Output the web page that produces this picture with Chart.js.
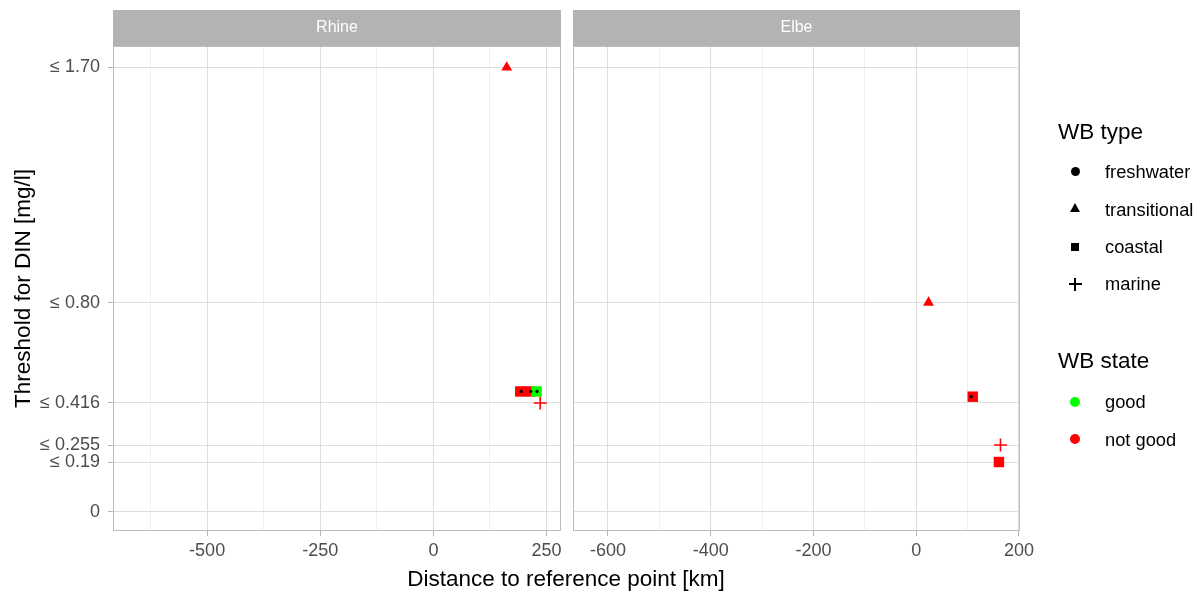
<!DOCTYPE html>
<html>
<head>
<meta charset="utf-8">
<script src="https://cdn.jsdelivr.net/npm/chart.js"></script>
<style>
  body { margin: 0; background: #fff; font-family: "Liberation Sans", Arial, sans-serif; }
  #wrap { position: relative; width: 1203px; height: 592px; overflow: hidden; }
  canvas { position: absolute; top: 0; }
  .txt { position: absolute; white-space: nowrap; color: #000; }
  .sym { position: absolute; }
</style>
</head>
<body>
<div id="wrap">
  <canvas id="rhine" width="566" height="592" style="left:0"></canvas>
  <canvas id="elbe" width="637" height="592" style="left:566px"></canvas>
  <div class="txt" style="left:0;width:1132px;text-align:center;top:566px;font-size:22.5px;line-height:26px">Distance to reference point [km]</div>
  <div id="legend"></div>
</div>
<script>
// panels
var panelNames = ['Rhine', 'Elbe'];

// Rhine water bodies
var rhineDistance = [162, 192, 213, 228, 236];
var rhineThreshold = [1.70, 0.46, 0.46, 0.46, 0.416];
var rhineType = ['transitional', 'coastal', 'coastal', 'coastal', 'marine'];
var rhineState = ['not good', 'not good', 'not good', 'good', 'not good'];
var rhineFreshDistance = [194, 215, 229];
var rhineFreshThreshold = [0.46, 0.46, 0.46];

// Elbe water bodies
var elbeDistance = [24, 110, 164, 161];
var elbeThreshold = [0.80, 0.44, 0.255, 0.19];
var elbeType = ['transitional', 'coastal', 'marine', 'coastal'];
var elbeState = ['not good', 'not good', 'not good', 'not good'];
var elbeFreshDistance = [107];
var elbeFreshThreshold = [0.44];

// axes
var yTickValues = [0, 0.19, 0.255, 0.416, 0.80, 1.70];
var yTickLabels = ['0', '\u2264 0.19', '\u2264 0.255', '\u2264 0.416', '\u2264 0.80', '\u2264 1.70'];
var rhineXMajor = [-500, -250, 0, 250];
var rhineXMinor = [-625, -375, -125, 125];
var elbeXMajor = [-600, -400, -200, 0, 200];
var elbeXMinor = [-500, -300, -100, 100];

var typeNames = ['freshwater', 'transitional', 'coastal', 'marine'];
var stateNames = ['good', 'not good'];
var stateColors = { 'good': '#00FF00', 'not good': '#FF0000' };
var typeStyle = { freshwater: 'circle', transitional: 'triangle', coastal: 'rect', marine: 'cross' };
var typeRadius = { freshwater: 4.5, transitional: 6.3, coastal: 7.4, marine: 6.5 };

var font = '"Liberation Sans", Arial, sans-serif';

function buildDatasets(dist, thr, type, state, freshDist, freshThr) {
    var sets = [{
        data: freshDist.map(function (x, i) { return { x: x, y: freshThr[i] }; }),
        pointStyle: 'circle',
        pointRadius: 1.6,
        backgroundColor: '#000',
        borderWidth: 0
    }];
    stateNames.forEach(function (s) {
        typeNames.forEach(function (t) {
            var pts = [];
            for (var i = 0; i < dist.length; i++) {
                if (type[i] === t && state[i] === s) pts.push({ x: dist[i], y: thr[i] });
            }
            if (!pts.length) return;
            sets.push({
                data: pts,
                pointStyle: typeStyle[t],
                pointRadius: typeRadius[t],
                backgroundColor: stateColors[s],
                borderColor: stateColors[s],
                borderWidth: t === 'marine' ? 1.6 : 0
            });
        });
    });
    return sets;
}

var panelPlugin = {
    id: 'panel',
    beforeDraw: function (chart) {
        var c = chart.ctx, a = chart.chartArea, t = chart.titleBlock;
        c.save();
        c.fillStyle = '#B3B3B3';
        c.fillRect(a.left, t.top, a.right - a.left, a.top - t.top);
        c.restore();
    },
    afterDraw: function (chart) {
        var c = chart.ctx, a = chart.chartArea;
        c.save();
        c.strokeStyle = '#BDBDBD';
        c.lineWidth = 1;
        c.strokeRect(a.left + 0.5, a.top + 0.5, a.right - a.left - 1, a.bottom - a.top - 1);
        c.restore();
    }
};

function makeChart(id, name, datasets, xMin, xMax, xMajor, xMinor, showY, pad) {
    var allX = xMajor.concat(xMinor).sort(function (a, b) { return a - b; });
    return new Chart(document.getElementById(id), {
        type: 'scatter',
        data: { datasets: datasets },
        plugins: [panelPlugin],
        options: {
            responsive: false,
            animation: false,
            layout: { padding: pad, autoPadding: false },
            plugins: {
                legend: { display: false },
                tooltip: { enabled: false },
                title: {
                    display: true,
                    text: name,
                    fullSize: false,
                    color: '#fff',
                    font: { family: font, size: 16, weight: 'normal', lineHeight: 1.2 },
                    padding: { top: 8.4, bottom: 8.4 }
                }
            },
            scales: {
                x: {
                    type: 'linear',
                    min: xMin,
                    max: xMax,
                    border: { display: false },
                    afterBuildTicks: function (scale) {
                        scale.ticks = allX.map(function (v) { return { value: v }; });
                    },
                    afterFit: function (scale) {
                        scale.height = 30;
                        scale.paddingLeft = 0;
                        scale.paddingRight = 0;
                    },
                    grid: {
                        color: function (ctx) {
                            return ctx.tick && xMajor.indexOf(ctx.tick.value) >= 0 ? '#DEDEDE' : '#F0F0F0';
                        },
                        tickColor: function (ctx) {
                            return ctx.tick && xMajor.indexOf(ctx.tick.value) >= 0 ? '#B3B3B3' : 'rgba(0,0,0,0)';
                        },
                        lineWidth: 1,
                        tickLength: 5
                    },
                    ticks: {
                        autoSkip: false,
                        maxRotation: 0,
                        padding: 4,
                        color: '#4D4D4D',
                        font: { family: font, size: 18 },
                        callback: function (v) {
                            return xMajor.indexOf(v) >= 0 ? String(v) : '';
                        }
                    }
                },
                y: {
                    type: 'linear',
                    min: -0.074,
                    max: 1.782,
                    border: { display: false },
                    afterBuildTicks: function (scale) {
                        scale.ticks = yTickValues.map(function (v) { return { value: v }; });
                    },
                    afterFit: function (scale) {
                        scale.width = showY ? 113 : 7;
                        scale.paddingTop = 0;
                        scale.paddingBottom = 0;
                    },
                    grid: {
                        color: '#DEDEDE',
                        lineWidth: 1,
                        drawTicks: showY,
                        tickColor: '#B3B3B3',
                        tickLength: 5
                    },
                    title: {
                        display: showY,
                        text: 'Threshold for DIN [mg/l]',
                        color: '#000',
                        font: { family: font, size: 22.5 },
                        padding: { top: 10, bottom: 0 }
                    },
                    ticks: {
                        display: showY,
                        autoSkip: false,
                        padding: 8,
                        color: '#4D4D4D',
                        font: { family: font, size: 18 },
                        callback: function (v) {
                            var i = yTickValues.indexOf(v);
                            return i >= 0 ? yTickLabels[i] : '';
                        }
                    }
                }
            }
        }
    });
}

makeChart('rhine', panelNames[0],
    buildDatasets(rhineDistance, rhineThreshold, rhineType, rhineState, rhineFreshDistance, rhineFreshThreshold),
    -708, 282, rhineXMajor, rhineXMinor, true, { left: 0, right: 5, top: 10, bottom: 31 });

makeChart('elbe', panelNames[1],
    buildDatasets(elbeDistance, elbeThreshold, elbeType, elbeState, elbeFreshDistance, elbeFreshThreshold),
    -668, 202, elbeXMajor, elbeXMinor, false, { left: 0, right: 183, top: 10, bottom: 31 });

// legend (html)
var legend = document.getElementById('legend');
function addText(text, left, top, size, lh) {
    var d = document.createElement('div');
    d.className = 'txt';
    d.textContent = text;
    d.style.left = left + 'px';
    d.style.top = top + 'px';
    d.style.fontSize = size + 'px';
    d.style.lineHeight = lh + 'px';
    legend.appendChild(d);
}
function addBox(cx, cy, w, h, css) {
    var d = document.createElement('div');
    d.className = 'sym';
    d.style.left = (cx - w / 2) + 'px';
    d.style.top = (cy - h / 2) + 'px';
    d.style.width = w + 'px';
    d.style.height = h + 'px';
    d.style.cssText += css;
    legend.appendChild(d);
}

addText('WB type', 1058, 119, 22.5, 26);
var typeRows = [171.7, 209.2, 246.6, 284];
typeNames.forEach(function (t, i) {
    addText(t, 1105, typeRows[i] - 10.6, 18.3, 22);
});
addBox(1075, typeRows[0], 9, 9, 'background:#000;border-radius:50%;');
addBox(1075, typeRows[1] - 1, 0, 0, 'border-left:5px solid transparent;border-right:5px solid transparent;border-bottom:9px solid #000;margin-left:-5px;margin-top:-5px;');
addBox(1075, typeRows[2], 8, 8, 'background:#000;');
addBox(1075, typeRows[3], 13, 1.6, 'background:#000;');
addBox(1075, typeRows[3], 1.6, 13, 'background:#000;');

addText('WB state', 1058, 347.5, 22.5, 26);
var stateRows = [401.7, 439.3];
stateNames.forEach(function (s, i) {
    addText(s, 1105, stateRows[i] - 10.6, 18.3, 22);
    addBox(1075, stateRows[i], 10, 10, 'background:' + stateColors[s] + ';border-radius:50%;');
});
</script>
</body>
</html>
